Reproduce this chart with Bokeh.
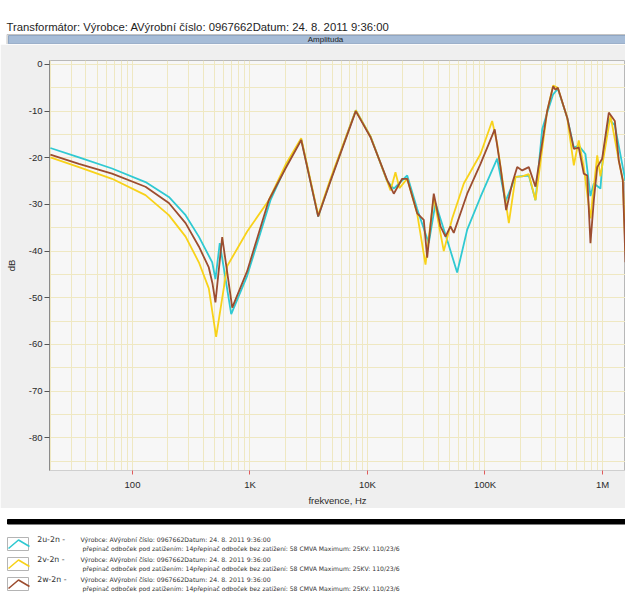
from bokeh.plotting import figure
from bokeh.layouts import column
from bokeh.models import Range1d, FixedTicker, Div
from bokeh.core.properties import value
from bokeh.embed import file_html
from bokeh.resources import INLINE

# ---------------- data ----------------
title_text = "Transformátor: Výrobce: AVýrobní číslo: 0967662Datum: 24. 8. 2011 9:36:00"
panel_title = "Amplituda"
x_label = "frekvence, Hz"
y_label = "dB"
x_tick_values = [100, 1000, 10000, 100000, 1000000]
x_tick_labels = ["100", "1K", "10K", "100K", "1M"]
y_tick_values = [0, -10, -20, -30, -40, -50, -60, -70, -80]
y_tick_labels = ["0", "-10", "-20", "-30", "-40", "-50", "-60", "-70", "-80"]

series_names = ["2u-2n", "2v-2n", "2w-2n"]
legend_line1 = "Výrobce: AVýrobní číslo: 0967662Datum: 24. 8. 2011 9:36:00"
legend_line2 = "přepínač odboček pod zatížením: 14přepínač odboček bez zatížení: 58 CMVA Maximum: 25KV: 110/23/6"

f_2u = [20, 35, 67, 129, 204, 283, 367, 477, 508, 553,
        692, 946, 1494, 2005, 2728, 3805, 4842, 7950, 10610, 14710,
        16740, 21780, 26490, 33240, 37900, 47650, 57960, 70570, 91600, 127000,
        149300, 182000, 236000, 269000, 306700, 338100, 380200, 416800, 501000, 570400,
        628000, 716000, 790000, 844000, 961000, 1006000, 1132000, 1273000, 1489000, 1570000]
db_2u = [-17.9, -19.9, -22.3, -25.2, -28.4, -32.3, -36.9, -42.4, -46.0, -38.3,
         -53.5, -45.3, -29.1, -22.0, -16.0, -32.6, -24.8, -9.8, -15.4, -25.0,
         -26.6, -23.8, -31.0, -38.3, -29.7, -37.6, -44.6, -35.4, -28.4, -20.2,
         -29.4, -24.1, -23.8, -29.1, -13.9, -10.4, -6.4, -5.2, -11.4, -17.8,
         -17.4, -19.2, -28.2, -25.5, -26.6, -19.9, -11.7, -13.0, -22.0, -25.0]

f_2v = [20, 35, 67, 129, 204, 283, 367, 446, 515, 640,
        946, 1445, 2005, 2728, 3805, 4842, 7950, 10610, 14710, 15700,
        17300, 18700, 21780, 26490, 31170, 36650, 44600, 52570, 66030, 91600,
        115100, 127000, 159600, 182000, 207400, 236000, 269000, 296600, 338100, 380200,
        416800, 501000, 570400, 628000, 693000, 790000, 902000, 961000, 1170000, 1377000,
        1489000, 1570000]
db_2v = [-19.9, -22.0, -24.5, -28.0, -32.3, -36.9, -42.4, -48.0, -58.4, -43.2,
         -35.8, -29.1, -21.5, -15.8, -32.3, -24.5, -9.8, -15.4, -25.0, -27.0,
         -23.1, -26.5, -24.5, -32.0, -42.9, -28.4, -40.0, -33.0, -25.5, -19.2,
         -12.1, -17.0, -34.0, -24.1, -24.0, -23.5, -29.1, -21.0, -10.0, -4.5,
         -5.0, -11.4, -21.6, -16.3, -22.0, -33.0, -19.5, -24.0, -11.0, -20.6,
         -24.8, -40.0]

f_2w = [20, 35, 67, 129, 204, 283, 367, 446, 480, 508,
        580, 706, 946, 1445, 2005, 2728, 3805, 4842, 7950, 10610,
        14710, 16740, 19730, 21780, 26490, 30130, 32210, 36650, 41800, 46120,
        50840, 54230, 70570, 91600, 107700, 121000, 135500, 151400, 170400, 188000,
        207400, 236000, 269000, 296600, 338100, 380200, 398000, 416800, 501000, 570400,
        628000, 693000, 741000, 790000, 844000, 902000, 994000, 1132000, 1273000, 1377000,
        1489000, 1570000]
db_2w = [-19.3, -21.3, -23.4, -26.2, -29.7, -34.0, -39.0, -43.5, -47.0, -51.0,
         -37.0, -52.1, -44.3, -29.1, -22.3, -16.2, -32.6, -25.0, -10.0, -15.6,
         -24.8, -27.7, -24.5, -24.5, -31.9, -33.3, -41.4, -27.7, -34.7, -36.9,
         -34.7, -36.1, -27.7, -21.3, -17.0, -13.9, -22.0, -31.2, -25.5, -22.0,
         -22.7, -22.0, -26.2, -19.2, -10.0, -4.7, -5.4, -5.0, -11.4, -18.1,
         -17.8, -23.4, -23.8, -38.3, -29.1, -22.0, -20.2, -10.3, -12.1, -20.6,
         -24.8, -42.4]

series_colors = ["#2fc9d2", "#f8d21a", "#9c4d30"]

# ---------------- layout constants ----------------
W = 625
H_BAR = 14
H_HEAD = 30
H_MAIN = 464
H_LEG = 89
GRID = "#efe8c2"
FONT = "Liberation Sans"


def blank(h, bg="white"):
    f = figure(width=W, height=h, x_range=Range1d(0, W), y_range=Range1d(0, h),
               title=None, toolbar_location=None, output_backend="svg", min_border=0,
               x_axis_location=None, y_axis_location=None, outline_line_color=None,
               background_fill_color=bg, border_fill_color=bg)
    f.grid.visible = False
    f.frame_align = False
    return f


# ---------------- top rule ----------------
top_rule = Div(width=W, height=H_BAR,
               text='<div style="padding-top:7px;margin:0;">'
                    '<div style="height:4.3px;margin-left:7px;background:#000;"></div></div>',
               styles={"margin": "0", "padding": "0"})

# ---------------- header (offsets measured from page top, minus H_BAR) ----------------
head = blank(H_HEAD)
T = lambda off: H_HEAD - (off - H_BAR)
head.quad(left=6.5, right=W + 2, top=T(34), bottom=T(H_BAR + H_HEAD + 2),
          fill_color="#efefef", line_color="#c4c4c4")
head.quad(left=8, right=W, top=T(35), bottom=T(43.3), fill_color="#a6bcd7",
          line_color="#90a6c2")
head.text(x=[6], y=[T(26.5)], text=[title_text], text_font=value(FONT),
          text_font_size="11.3px", text_baseline="middle", text_align="left",
          text_color="#1e1e1e")
head.text(x=[325], y=[T(39.2)], text=[panel_title], text_font=value(FONT),
          text_font_size="8px", text_baseline="middle", text_align="center",
          text_color="#1e1e1e")

# ---------------- main plot ----------------
p = figure(width=W, height=H_MAIN, x_axis_type="log",
           x_range=Range1d(19.66, 1.57e6), y_range=Range1d(-87.02, 0.85),
           title=None, toolbar_location=None, output_backend="svg",
           min_border_left=49, min_border_right=0, min_border_top=16,
           min_border_bottom=35,
           background_fill_color="#f7f7f7", border_fill_color="#efefef",
           outline_line_color="#b8b8b8")
p.frame_align = False

p.xgrid.ticker = FixedTicker(ticks=[k * 10 ** n for n in range(1, 7) for k in range(1, 10)])
p.ygrid.ticker = FixedTicker(ticks=list(range(-85, 1, 5)))
for g in (p.xgrid, p.ygrid):
    g.grid_line_color = GRID
    g.grid_line_width = 1

xa = p.xaxis[0]
xa.ticker = FixedTicker(ticks=x_tick_values)
xa.major_label_overrides = dict(zip(x_tick_values, x_tick_labels))
xa.major_tick_line_color = "#e05a5a"
xa.major_tick_out = 4
xa.major_tick_in = 0
xa.minor_tick_line_color = None
xa.axis_line_color = "#cfcfcf"
xa.major_label_text_font = FONT
xa.major_label_text_font_size = "9.5px"
xa.major_label_text_color = "#2a2a2a"
xa.major_label_standoff = 4
xa.axis_label = x_label
xa.axis_label_text_font = FONT
xa.axis_label_text_font_size = "9.5px"
xa.axis_label_text_font_style = "normal"
xa.axis_label_text_color = "#2a2a2a"
xa.axis_label_standoff = 2

ya = p.yaxis[0]
ya.ticker = FixedTicker(ticks=y_tick_values)
ya.major_label_overrides = dict(zip(y_tick_values, y_tick_labels))
ya.major_tick_line_color = "#555555"
ya.major_tick_out = 5
ya.major_tick_in = 0
ya.minor_tick_line_color = None
ya.axis_line_color = "#8a8a8a"
ya.major_label_text_font = FONT
ya.major_label_text_font_size = "9.5px"
ya.major_label_text_color = "#2a2a2a"
ya.major_label_standoff = 2
ya.axis_label = y_label
ya.axis_label_text_font = FONT
ya.axis_label_text_font_size = "9.5px"
ya.axis_label_text_font_style = "normal"
ya.axis_label_text_color = "#2a2a2a"
ya.axis_label_standoff = 9

for fx, dy, c in ((f_2u, db_2u, series_colors[0]),
                  (f_2v, db_2v, series_colors[1]),
                  (f_2w, db_2w, series_colors[2])):
    p.line(fx, dy, line_color=c, line_width=1.8)

# ---------------- legend (offsets measured from the top) ----------------
leg = blank(H_LEG)
L = lambda off: H_LEG - off
leg.quad(left=7, right=W, top=L(11), bottom=L(15.5), fill_color="black",
         line_color="black")
row_tops = [29, 49, 69]
for name, c, t in zip(series_names, series_colors, row_tops):
    leg.quad(left=7, right=28, top=L(t), bottom=L(t + 13), fill_color="white",
             line_color="#b4b4b4")
    leg.line(x=[8, 18, 29], y=[L(t + 11), L(t + 2.5), L(t + 9)], line_color=c,
             line_width=1.6)
    leg.text(x=[36.7], y=[L(t + 2.3)], text=[name + " -"], text_font=value("DejaVu Sans"),
             text_font_size="7.8px", text_baseline="middle", text_color="#333333")
    leg.text(x=[80], y=[L(t + 2.3)], text=[legend_line1], text_font=value("DejaVu Sans"),
             text_font_size="6.2px", text_baseline="middle", text_color="#333333")
    leg.text(x=[82], y=[L(t + 11)], text=[legend_line2], text_font=value("DejaVu Sans"),
             text_font_size="6.1px", text_baseline="middle", text_color="#333333")

layout = column(top_rule, head, p, leg, spacing=0)
open("out.html", "w").write(file_html(layout, INLINE))
